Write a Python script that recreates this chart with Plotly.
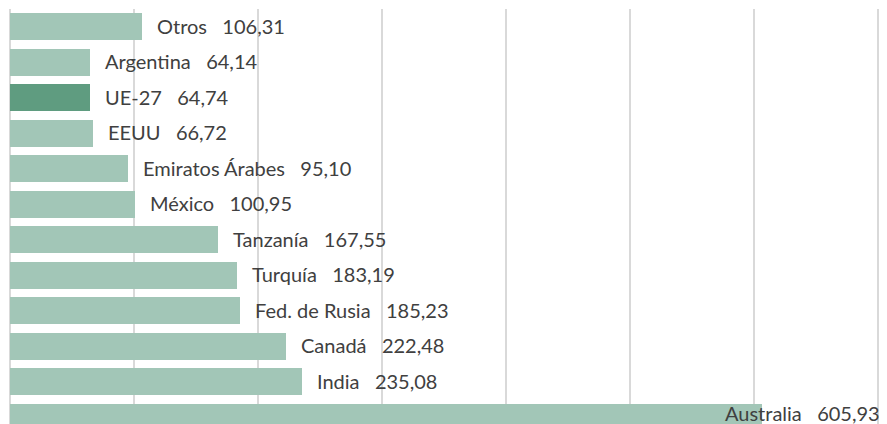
import plotly.graph_objects as go

# bottom to top
paises = ["Australia", "India", "Canadá", "Fed. de Rusia", "Turquía", "Tanzanía",
          "México", "Emiratos Árabes", "EEUU", "UE-27", "Argentina", "Otros"]
valores = [605.93, 235.08, 222.48, 185.23, 183.19, 167.55,
           100.95, 95.10, 66.72, 64.74, 64.14, 106.31]
valores_txt = ["605,93", "235,08", "222,48", "185,23", "183,19", "167,55",
               "100,95", "95,10", "66,72", "64,74", "64,14", "106,31"]

VERDE = "#a2c6b7"
VERDE_UE = "#5f9c80"
colores = [VERDE_UE if p == "UE-27" else VERDE for p in paises]

fig = go.Figure(go.Bar(
    y=list(range(len(paises))),
    x=valores,
    orientation="h",
    marker=dict(color=colores, line=dict(width=0)),
    width=0.76,
    hoverinfo="skip",
))

ESP = "\u00a0" * 3
for i, (p, v, t) in enumerate(zip(paises, valores, valores_txt)):
    if p == "Australia":
        # label doesn't fit after the bar, so it ends near the right edge
        anchor, shift, up = "right", 120, 4
    else:
        anchor, shift, up = "left", 13, 1
    fig.add_annotation(
        x=v, y=i, xref="x", yref="y",
        text=f"{p}{ESP}{t}",
        showarrow=False, xanchor=anchor, yanchor="middle",
        xshift=shift, yshift=up,
        font=dict(family="Lato, sans-serif", size=20, color="#404040"),
    )

# page has an 8px body margin, so the figure is sized to end at the window edge
fig.update_layout(
    width=879, height=416,
    plot_bgcolor="#ffffff",
    paper_bgcolor="#ffffff",
    margin=dict(l=2, r=0, t=1, b=0),
    showlegend=False,
    bargap=0,
    xaxis=dict(
        range=[0, 707],
        dtick=100,
        showticklabels=False,
        showgrid=True,
        gridcolor="#d9d9d9",
        gridwidth=1.5,
        zeroline=True,
        zerolinecolor="#d9d9d9",
        zerolinewidth=1.5,
        fixedrange=True,
    ),
    yaxis=dict(
        range=[-0.19, 11.5],
        showticklabels=False,
        showgrid=False,
        zeroline=False,
        fixedrange=True,
    ),
)

fig.write_html("out.html")
